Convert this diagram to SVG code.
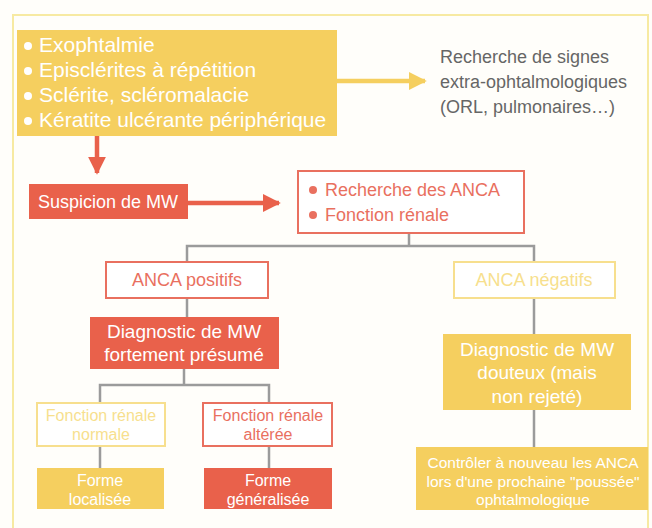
<svg xmlns="http://www.w3.org/2000/svg" width="652" height="528" viewBox="0 0 652 528">
<defs>
<style>
text{font-family:"Liberation Sans",Arial,sans-serif}
.yf{fill:#f5cf5f}
.rf{fill:#e9614b}
.rs{fill:#fff;stroke:#e9705f;stroke-width:2}
.ys{fill:#fff;stroke:#f7df8e;stroke-width:2}
.wt{fill:#fff}
.rt{fill:#e9705f}
.yt{fill:#f7df8e}
.gt{fill:#666}
.conn{stroke:#9b9b9b;stroke-width:2.5;fill:none}
</style>
<marker id="ar" viewBox="0 0 10 10" refX="9" refY="5" markerWidth="4" markerHeight="4" orient="auto" markerUnits="strokeWidth"><path d="M0,0L10,5L0,10z" fill="#e9614b"/></marker>
<marker id="ay" viewBox="0 0 10 10" refX="9" refY="5" markerWidth="4" markerHeight="4" orient="auto" markerUnits="strokeWidth"><path d="M0,0L10,5L0,10z" fill="#f5cf5f"/></marker>
</defs>
<rect x="0" y="0" width="652" height="528" fill="#fffefa"/>
<rect x="13" y="15" width="635" height="530" fill="none" stroke="#f7eaa2" stroke-width="2"/>

<g id="connectors">
<line x1="336" y1="81" x2="425" y2="81" stroke="#f5cf5f" stroke-width="4.5" marker-end="url(#ay)"/>
<line x1="97" y1="136" x2="97" y2="173" stroke="#e9614b" stroke-width="4.5" marker-end="url(#ar)"/>
<line x1="188" y1="203" x2="279" y2="203" stroke="#e9614b" stroke-width="4.5" marker-end="url(#ar)"/>
<path class="conn" d="M409,233V246M187,262V246H534V262"/>
<path class="conn" d="M187,298V317"/>
<path class="conn" d="M184,369V385M100,403V385H269V403"/>
<path class="conn" d="M100,446V468M269,446V468"/>
<path class="conn" d="M534,298V334M534,410V447"/>
</g>

<g id="signs">
<rect class="yf" x="17" y="30" width="320" height="106"/>
<g class="wt">
<circle cx="28" cy="46" r="4"/><circle cx="28" cy="71" r="4"/><circle cx="28" cy="96" r="4"/><circle cx="28" cy="121" r="4"/>
</g>
<g class="wt" font-size="21">
<text x="39" y="52">Exophtalmie</text>
<text x="39" y="77">Episclérites à répétition</text>
<text x="39" y="102">Sclérite, scléromalacie</text>
<text x="39" y="127">Kératite ulcérante périphérique</text>
</g>
</g>

<g id="extra">
<g class="gt" font-size="18">
<text x="440" y="63">Recherche de signes</text>
<text x="440" y="88">extra-ophtalmologiques</text>
<text x="440" y="113">(ORL, pulmonaires…)</text>
</g>
</g>

<g id="suspicion">
<rect class="rf" x="29" y="184" width="159" height="35"/>
<text class="wt" x="108" y="208" font-size="18" text-anchor="middle">Suspicion de MW</text>
</g>

<g id="recherche">
<rect class="rs" x="298" y="171" width="226" height="62"/>
<circle class="rt" cx="313" cy="190" r="4"/><circle class="rt" cx="313" cy="215" r="4"/>
<text class="rt" x="325" y="196" font-size="18">Recherche des ANCA</text>
<text class="rt" x="325" y="221" font-size="18">Fonction rénale</text>
</g>

<g id="anca-pos">
<rect class="rs" x="106" y="262" width="162" height="36"/>
<text class="rt" x="187" y="286" font-size="18" text-anchor="middle">ANCA positifs</text>
</g>

<g id="anca-neg">
<rect class="ys" x="454" y="262" width="161" height="36"/>
<text class="yt" x="534" y="286" font-size="18" text-anchor="middle">ANCA négatifs</text>
</g>

<g id="diag-fort">
<rect class="rf" x="90" y="317" width="189" height="52"/>
<text class="wt" x="184" y="338" font-size="19" text-anchor="middle">Diagnostic de MW</text>
<text class="wt" x="184" y="361" font-size="19" text-anchor="middle">fortement présumé</text>
</g>

<g id="fr-normale">
<rect class="ys" x="37" y="403" width="128" height="43"/>
<text class="yt" x="101" y="421" font-size="16" text-anchor="middle">Fonction rénale</text>
<text class="yt" x="101" y="440" font-size="16" text-anchor="middle">normale</text>
</g>

<g id="fr-alteree">
<rect class="rs" x="203" y="403" width="129" height="43"/>
<text class="rt" x="268" y="421" font-size="16" text-anchor="middle">Fonction rénale</text>
<text class="rt" x="268" y="440" font-size="16" text-anchor="middle">altérée</text>
</g>

<g id="forme-loc">
<rect class="yf" x="37" y="468" width="127" height="41"/>
<text class="wt" x="100" y="486" font-size="16" text-anchor="middle">Forme</text>
<text class="wt" x="100" y="505" font-size="16" text-anchor="middle">localisée</text>
</g>

<g id="forme-gen">
<rect class="rf" x="204" y="468" width="128" height="41"/>
<text class="wt" x="268" y="486" font-size="16" text-anchor="middle">Forme</text>
<text class="wt" x="268" y="505" font-size="16" text-anchor="middle">généralisée</text>
</g>

<g id="diag-douteux">
<rect class="yf" x="443" y="334" width="188" height="76"/>
<text class="wt" x="537" y="356" font-size="19" text-anchor="middle">Diagnostic de MW</text>
<text class="wt" x="537" y="379" font-size="19" text-anchor="middle">douteux (mais</text>
<text class="wt" x="537" y="403" font-size="19" text-anchor="middle">non rejeté)</text>
</g>

<g id="controler">
<rect class="yf" x="416" y="447" width="232" height="63"/>
<text class="wt" x="533" y="468" font-size="15.5" text-anchor="middle">Contrôler à nouveau les ANCA</text>
<text class="wt" x="533" y="487" font-size="15.5" text-anchor="middle">lors d'une prochaine "poussée"</text>
<text class="wt" x="533" y="505" font-size="15.5" text-anchor="middle">ophtalmologique</text>
</g>
</svg>
